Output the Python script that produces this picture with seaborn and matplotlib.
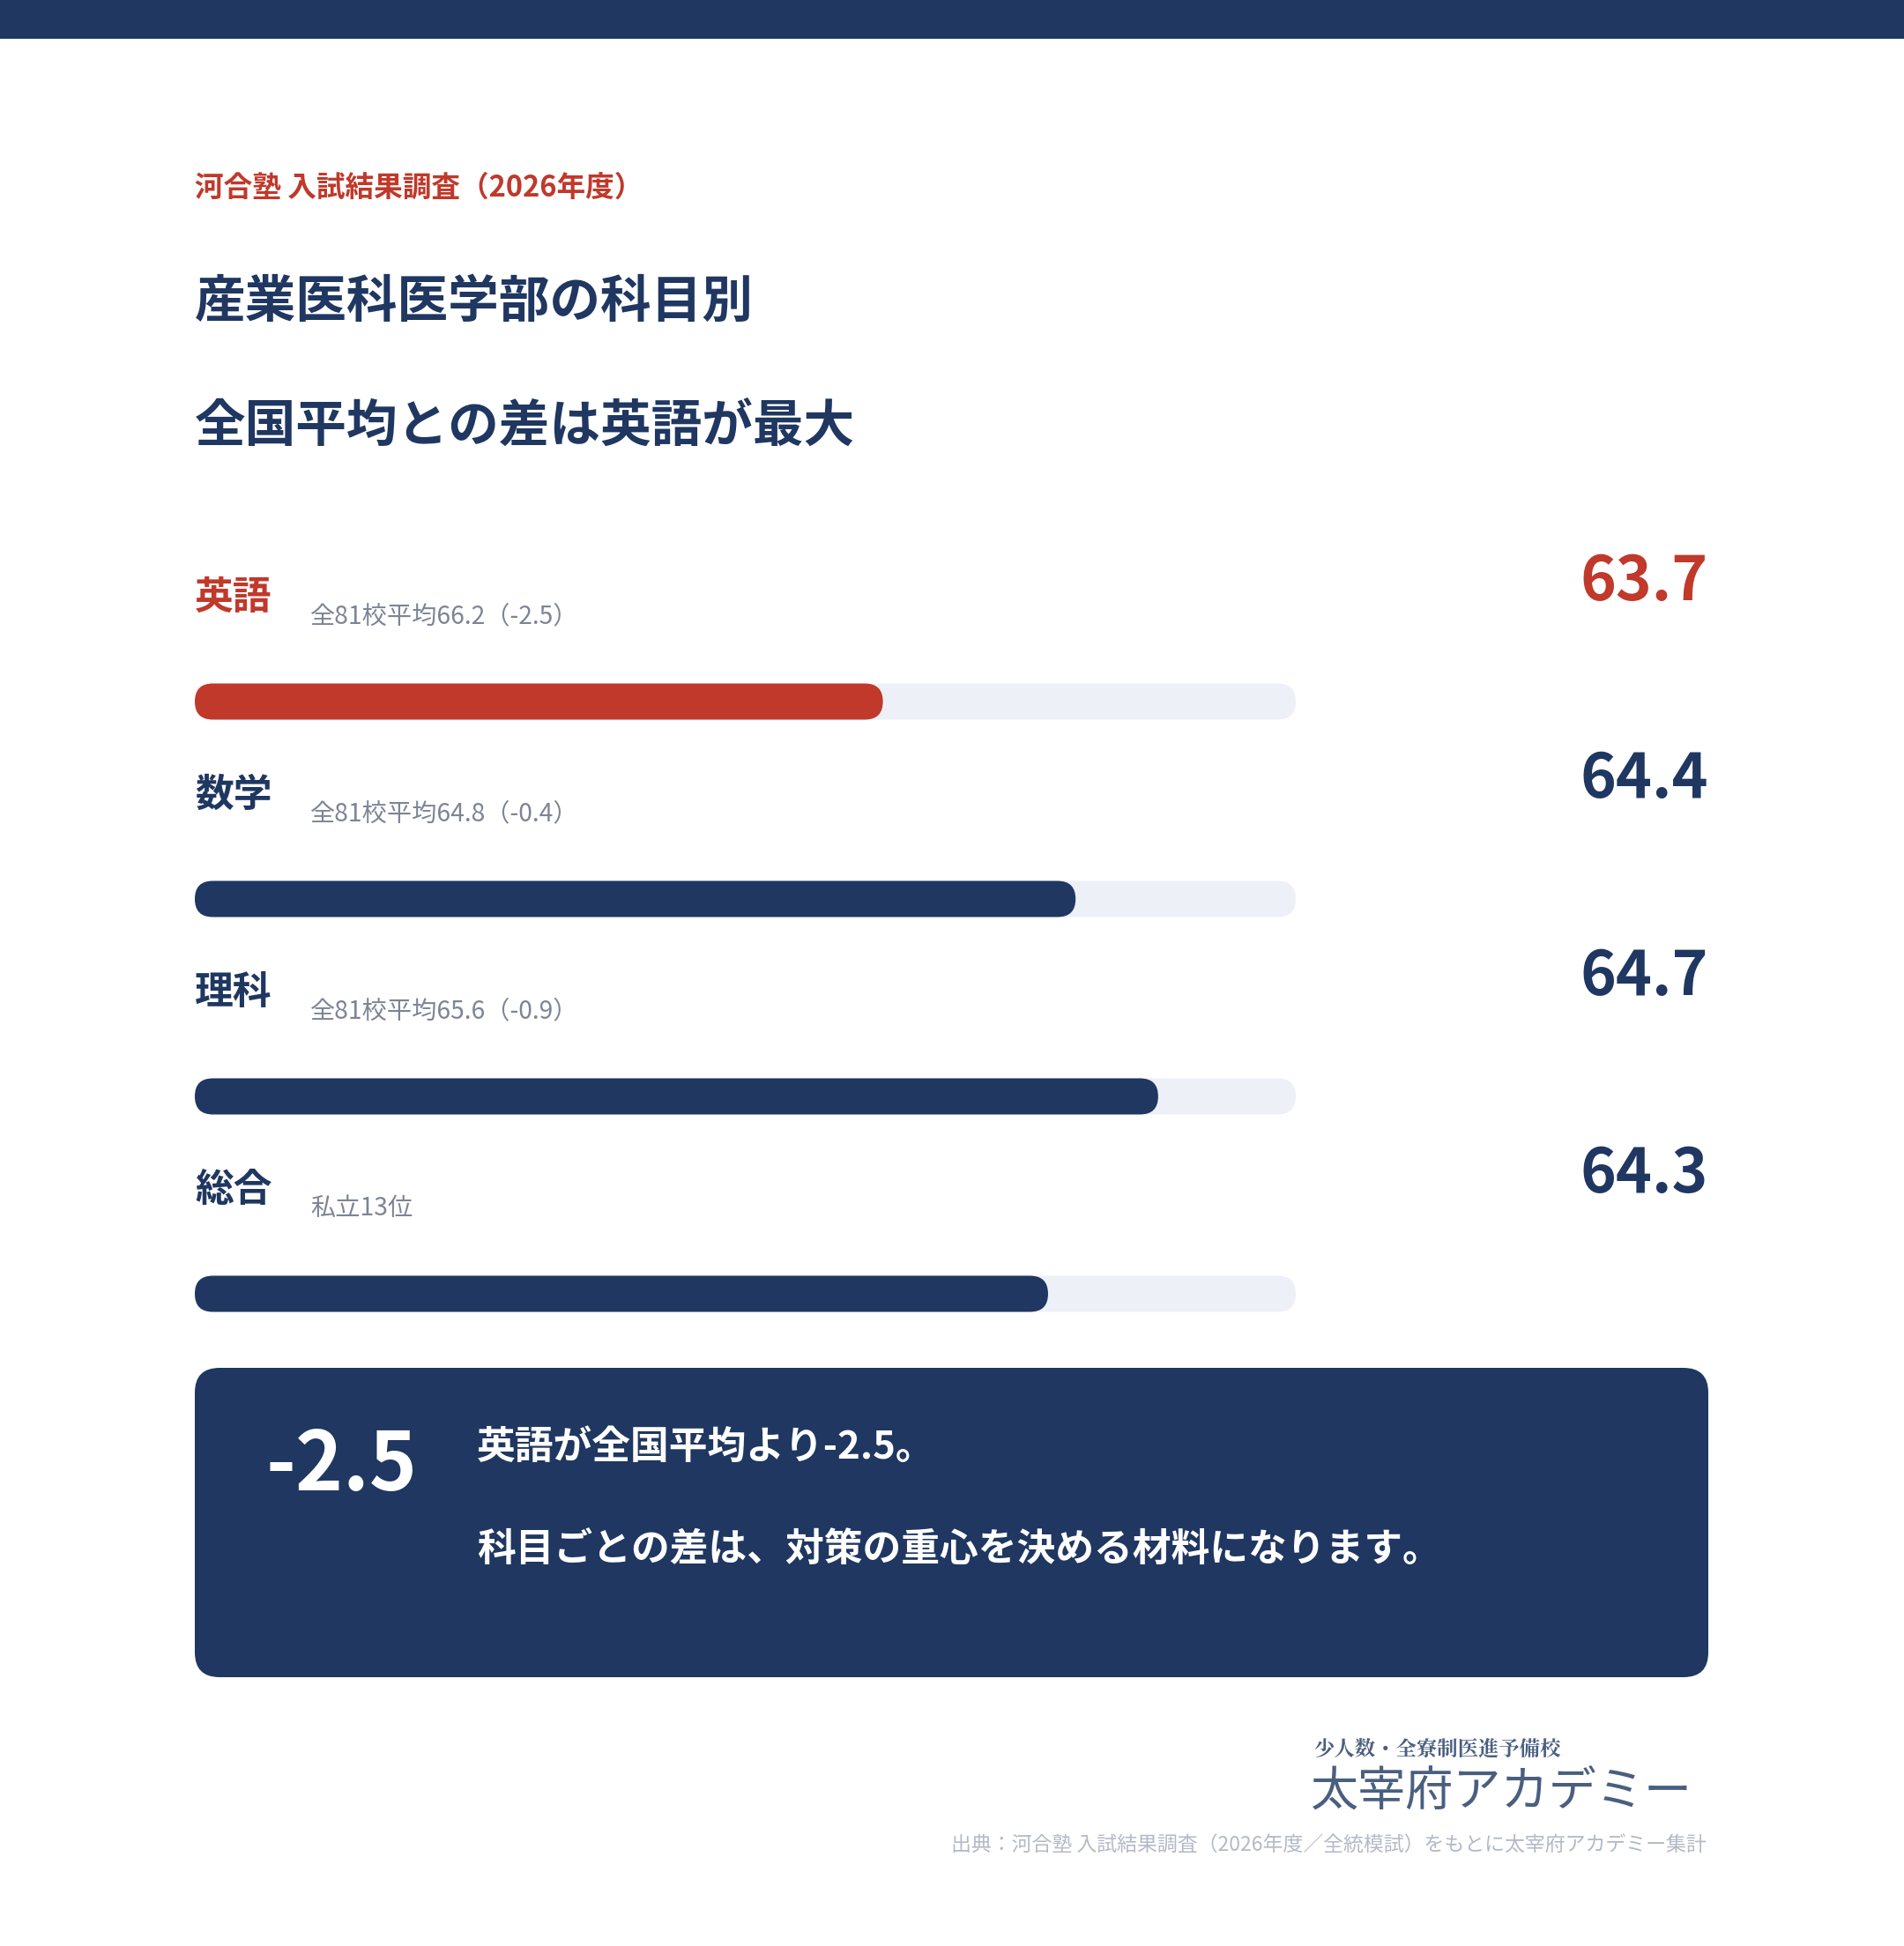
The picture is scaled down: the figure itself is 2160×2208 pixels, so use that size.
import matplotlib
matplotlib.use('Agg')
import matplotlib.pyplot as plt
import seaborn as sns
import pandas as pd
from matplotlib.patches import FancyBboxPatch, Rectangle

sns.set_theme(style='white')
plt.rcParams['font.family'] = ['Noto Sans CJK JP', 'DejaVu Sans']

# data
subjects = ['英語', '数学', '理科', '総合']
scores = [63.7, 64.4, 64.7, 64.3]
notes = ['全81校平均66.2（-2.5）', '全81校平均64.8（-0.4）', '全81校平均65.6（-0.9）', '私立13位']
highlight = '英語'
X_MIN, X_MAX = 61.2, 65.2

NAVY = '#1f3761'
RED = '#c0392b'
TRACK = '#edf0f7'
GRAY = '#7d8494'

W, H = 2160, 2208
fig = plt.figure(figsize=(W / 100, H / 100), dpi=100)
fig.patch.set_facecolor('white')


def fx(x):
    return x / W


def fy(y):
    return 1 - y / H


# top band
fig.patches.append(Rectangle((0, fy(44)), 1, 44 / H, transform=fig.transFigure,
                             facecolor=NAVY, edgecolor='none'))

fig.text(fx(221), fy(213), '河合塾 入試結果調査（2026年度）', color=RED,
         fontsize=23.5, fontweight='bold', va='center')
fig.text(fx(221), fy(343), '産業医科医学部の科目別', color=NAVY,
         fontsize=41.5, fontweight='bold', va='center')
fig.text(fx(221), fy(484), '全国平均との差は英語が最大', color=NAVY,
         fontsize=41.5, fontweight='bold', va='center')

# bars
row_gap = 224
ax_top = 796 - row_gap / 2
ax_left, ax_right = 221, 1470
ax = fig.add_axes([fx(ax_left), fy(ax_top + 4 * row_gap), (ax_right - ax_left) / W, 4 * row_gap / H])
df = pd.DataFrame({'subject': subjects, 'score': scores})
df['track'] = X_MAX
sns.barplot(data=df, y='subject', x='track', color=TRACK, saturation=1, ax=ax, width=0.183, orient='h')
sns.barplot(data=df, y='subject', x='score', hue='subject', legend=False, saturation=1,
            palette={s: (RED if s == highlight else NAVY) for s in subjects},
            ax=ax, width=0.183, orient='h')
ax.set_xlim(X_MIN, X_MAX)
ax.set_ylim(3.5, -0.5)
ax.axis('off')

xpp = (X_MAX - X_MIN) / (ax_right - ax_left)
aspect = (1 / row_gap) / xpp
radius = 20.5 * xpp
for p in list(ax.patches):
    x0, y0, w, h = p.get_x(), p.get_y(), p.get_width(), p.get_height()
    w = (x0 + w) - X_MIN
    fc = p.get_facecolor()
    p.set_visible(False)
    ax.add_patch(FancyBboxPatch((X_MIN, y0), w, h,
                                boxstyle=f'round,pad=0,rounding_size={radius}',
                                mutation_aspect=aspect, facecolor=fc,
                                edgecolor='none', clip_on=False))

# row labels and values
for i, (s, v, n) in enumerate(zip(subjects, scores, notes)):
    base = 678 + i * row_gap
    c = RED if s == highlight else NAVY
    fig.text(fx(221), fy(base), s, color=c, fontsize=31.5, fontweight='bold', va='center')
    fig.text(fx(352), fy(base + 21), n, color=GRAY, fontsize=20.3, va='center')
    fig.text(fx(1938), fy(base - 17), f'{v:.1f}', color=c, fontsize=50,
             fontweight='bold', va='center', ha='right')

# callout box
fig.patches.append(FancyBboxPatch((fx(221), fy(1903)), (1938 - 221) / W, (1903 - 1552) / H,
                                  boxstyle='round,pad=0,rounding_size=0.013',
                                  mutation_aspect=W / H, transform=fig.transFigure,
                                  facecolor=NAVY, edgecolor='none'))
gap = scores[0] - 66.2
fig.text(fx(302), fy(1664), f'{gap:.1f}', color='white', fontsize=66,
         fontweight='bold', va='center')
fig.text(fx(541), fy(1642), f'英語が全国平均より{gap:.1f}。', color='white',
         fontsize=31.5, fontweight='bold', va='center')
fig.text(fx(541), fy(1758), '科目ごとの差は、対策の重心を決める材料になります。', color='white',
         fontsize=31.5, fontweight='bold', va='center')

# logo and source
LOGO = '#4a5f80'
fig.text(fx(1490), fy(1985), '少人数・全寮制医進予備校', color=LOGO, fontsize=16.8,
         fontweight='bold', va='center', family=['Noto Serif CJK JP', 'Noto Sans CJK JP'])
fig.text(fx(1486), fy(2033), '太宰府アカデミー', color=LOGO, fontsize=39, va='center')
fig.text(fx(1936), fy(2093), '出典：河合塾 入試結果調査（2026年度／全統模試）をもとに太宰府アカデミー集計',
         color='#b3b9c6', fontsize=16.5, va='center', ha='right')

fig.savefig('out.png', dpi=100, facecolor='white')
